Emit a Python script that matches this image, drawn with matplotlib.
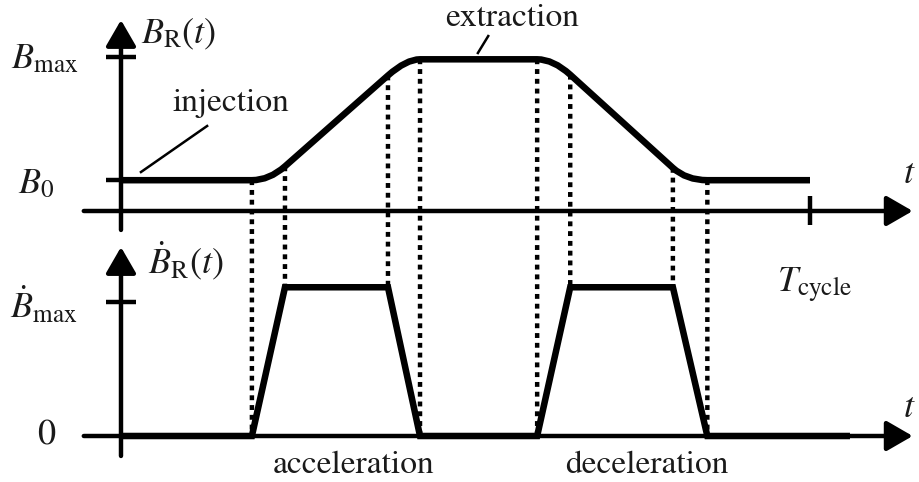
import numpy as np
import matplotlib
matplotlib.use("Agg")
import matplotlib.pyplot as plt
from matplotlib.path import Path
from matplotlib.patches import PathPatch, ConnectionPatch

plt.rcParams['mathtext.fontset'] = 'stix'
plt.rcParams['font.family'] = 'STIXGeneral'

# ---------- 1. magnet cycle (time in units of T_cycle) ----------
B0 = 0.2          # injection field
B_max = 1.0       # tick level on the B axis
B_top = 0.985     # flat top (extraction)
Bdot_max = 1.0    # tick level on the dB/dt axis
Bdot_top = 1.11   # ramp rate plateau

# break points: start of ramp, end of round-off, ... for both ramps
t_knots = [0.0, 0.19, 0.238, 0.3875, 0.434, 0.604, 0.652, 0.801, 0.851, 1.0]
B_knots = [B0, B0, 0.29, 0.88, B_top, B_top, 0.885, 0.28, B0, B0]

t_dot = [0.0, 0.19, 0.238, 0.3875, 0.434, 0.604, 0.652, 0.801, 0.851, 1.058]
Bdot = [0, 0, Bdot_top, Bdot_top, 0, 0, Bdot_top, Bdot_top, 0, 0]

# ---------- 2. figure / axes ----------
fig = plt.figure(figsize=(9.19, 4.82), dpi=100)
ax1 = fig.add_axes([0, 252 / 482, 1, 230 / 482])
ax2 = fig.add_axes([0, 0, 1, 252 / 482])
for ax in (ax1, ax2):
    ax.set_xlim(-0.1756, 1.1582)
    ax.axis('off')
    ax.patch.set_alpha(0)
ax1.set_ylim(-0.1234, 1.3701)
ax2.set_ylim(-0.3433, 1.5373)

LW_AX = 3.2
LW_CURVE = 4.7
TXT = '#1a1a1a'
FS = 24      # words
FS_M = 26    # symbols


def axis_arrow(ax, start, tip):
    ax.annotate('', xy=tip, xytext=start, annotation_clip=False,
                arrowprops=dict(arrowstyle='-|>,head_length=0.64,head_width=0.37',
                                mutation_scale=25, lw=LW_AX, color='black',
                                shrinkA=0, shrinkB=0))


# coordinate axes
axis_arrow(ax1, (-0.054, 0), (1.149, 0))
axis_arrow(ax1, (0, -0.123), (0, 1.24))
axis_arrow(ax2, (-0.054, 0), (1.149, 0))
axis_arrow(ax2, (0, -0.149), (0, 1.41))

# ticks
ax1.plot([-0.022, 0.022], [B_max, B_max], color='black', lw=LW_AX, solid_capstyle='butt')
ax1.plot([-0.022, 0.022], [B0, B0], color='black', lw=LW_AX, solid_capstyle='butt')
ax1.plot([1.0, 1.0], [0.097, -0.091], color='black', lw=LW_AX, solid_capstyle='butt')
ax2.plot([-0.022, 0.022], [Bdot_max, Bdot_max], color='black', lw=LW_AX, solid_capstyle='butt')


# ---------- 3. B(t) with rounded transitions ----------
def tangent_cross(p0, p1, p2, p3):
    # intersection of line p0-p1 with line p2-p3
    p0, p1, p2, p3 = map(np.asarray, (p0, p1, p2, p3))
    d1, d2 = p1 - p0, p3 - p2
    s = np.cross(p2 - p0, d2) / np.cross(d1, d2)
    return tuple(p0 + s * d1)


pts = list(zip(t_knots, B_knots))
verts = [pts[0]]
codes = [Path.MOVETO]
for i in range(1, len(pts)):
    if i % 2 == 0:
        # round-off between knot i-1 and i
        ctrl = tangent_cross(pts[i - 2], pts[i - 1], pts[i], pts[i + 1])
        verts += [ctrl, pts[i]]
        codes += [Path.CURVE3, Path.CURVE3]
    else:
        verts.append(pts[i])
        codes.append(Path.LINETO)
ax1.add_patch(PathPatch(Path(verts, codes), fill=False, lw=LW_CURVE,
                        edgecolor='black', capstyle='butt', joinstyle='round',
                        zorder=4))

# ---------- 4. dB/dt ----------
ax2.plot(t_dot, Bdot, color='black', lw=LW_CURVE, solid_capstyle='butt',
         solid_joinstyle='miter', zorder=4)

# dotted guides between both curves
for k in range(1, 9):
    con = ConnectionPatch(xyA=(t_knots[k], B_knots[k]), coordsA=ax1.transData,
                          xyB=(t_dot[k], Bdot[k]), coordsB=ax2.transData,
                          lw=3.2, linestyle=(0, (1.1, 1.1)), color='black',
                          capstyle='butt')
    con.set_zorder(-1)
    fig.add_artist(con)

# ---------- 5. labels ----------
ax1.text(0.029, 1.091, r'$B_{\mathrm{R}}(t)$', fontsize=FS_M, color=TXT, va='baseline')
ax1.text(-0.0624, 0.929, r'$B_{\max}$', fontsize=FS_M, color=TXT, va='baseline', ha='right')
ax1.text(-0.096, 0.117, r'$B_0$', fontsize=FS_M, color=TXT, va='baseline', ha='right')
ax1.text(1.135, 0.182, r'$t$', fontsize=FS_M, color=TXT, va='baseline')
ax1.text(0.074, 0.649, 'injection', fontsize=FS, color=TXT, va='baseline')
ax1.text(0.470, 1.201, 'extraction', fontsize=FS, color=TXT, va='baseline')
ax1.plot([0.029, 0.125], [0.253, 0.552], color='black', lw=1.8)
ax1.plot([0.518, 0.533], [1.026, 1.136], color='black', lw=1.8)

ax2.text(0.039, 1.216, r'$\dot{B}_{\mathrm{R}}(t)$', fontsize=FS_M, color=TXT, va='baseline')
ax2.text(-0.0624, 0.881, r'$\dot{B}_{\max}$', fontsize=FS_M, color=TXT, va='baseline', ha='right')
ax2.text(-0.096, -0.067, '0', fontsize=FS_M, color=TXT, va='baseline', ha='right')
ax2.text(1.135, 0.142, r'$t$', fontsize=FS_M, color=TXT, va='baseline')
ax2.text(0.952, 1.075, r'$T_{\mathrm{cycle}}$', fontsize=FS_M, color=TXT, va='baseline')
ax2.text(0.337, -0.276, 'acceleration', fontsize=FS, color=TXT, va='baseline', ha='center')
ax2.text(0.763, -0.276, 'deceleration', fontsize=FS, color=TXT, va='baseline', ha='center')

fig.savefig('out.png', dpi=100, facecolor='white')
